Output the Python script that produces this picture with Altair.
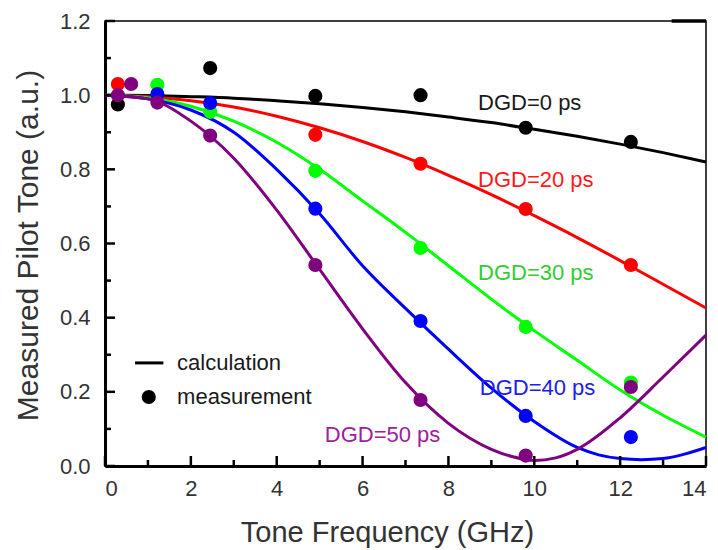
import altair as alt
import pandas as pd

# ---------------- data ----------------
series_names = ["DGD=0 ps", "DGD=20 ps", "DGD=30 ps", "DGD=40 ps", "DGD=50 ps"]
line_colors = ["#000000", "#ff0000", "#00ff00", "#0000ff", "#800080"]
label_colors = ["#1a1a1a", "#ff1a1a", "#33cc33", "#2020ee", "#a020a0"]

# calculation curves
calc_x_0 = [0, 1, 2, 3, 4, 5, 6, 7, 8, 9, 10, 11, 12, 13, 14]
calc_y_0 = [1.0, 0.999, 0.996, 0.992, 0.985, 0.977, 0.967, 0.955, 0.941, 0.926, 0.908, 0.889, 0.868, 0.845, 0.82]
calc_x_20 = [0, 1, 2, 3, 4, 5, 6, 7, 8, 9, 10, 11, 12, 13, 14]
calc_y_20 = [1.0, 0.996, 0.985, 0.968, 0.943, 0.912, 0.875, 0.832, 0.784, 0.732, 0.675, 0.616, 0.554, 0.49, 0.426]
calc_x_30 = [0, 1, 2, 3, 4, 5, 6, 7, 8, 9, 10, 11, 12, 13, 14]
calc_y_30 = [1.0, 0.993, 0.97, 0.93, 0.873, 0.8, 0.715, 0.63, 0.54, 0.45, 0.365, 0.285, 0.205, 0.137, 0.078]
calc_x_40 = [0, 1, 2, 3, 4, 5, 6, 7, 8, 9, 10, 11, 11.5, 12, 12.5, 13, 13.5, 14]
calc_y_40 = [1.0, 0.99, 0.96, 0.9, 0.8, 0.68, 0.54, 0.425, 0.315, 0.21, 0.12, 0.05, 0.03, 0.02, 0.017, 0.02, 0.032, 0.05]
calc_x_50 = [0, 1, 2, 3, 4, 5, 6, 7, 8, 9, 9.5, 10, 10.5, 11, 12, 13, 14]
calc_y_50 = [1.0, 0.99, 0.93, 0.83, 0.69, 0.53, 0.37, 0.225, 0.115, 0.045, 0.025, 0.015, 0.022, 0.045, 0.13, 0.24, 0.353]

# measurements
meas_x_0 = [0.3, 2.45, 4.9, 7.35, 9.8, 12.25]
meas_y_0 = [0.975, 1.073, 0.998, 1.0, 0.912, 0.874]
meas_x_20 = [0.3, 4.9, 7.35, 9.8, 12.25]
meas_y_20 = [1.03, 0.893, 0.815, 0.693, 0.542]
meas_x_30 = [1.22, 2.45, 4.9, 7.35, 9.8, 12.25]
meas_y_30 = [1.028, 0.955, 0.796, 0.588, 0.375, 0.225]
meas_x_40 = [1.22, 2.45, 4.9, 7.35, 9.8, 12.25]
meas_y_40 = [1.003, 0.979, 0.694, 0.391, 0.135, 0.078]
meas_x_50 = [0.3, 0.61, 1.22, 2.45, 4.9, 7.35, 9.8, 12.25]
meas_y_50 = [1.0, 1.03, 0.98, 0.891, 0.542, 0.178, 0.028, 0.213]

x_major = [0, 2, 4, 6, 8, 10, 12, 14]
x_minor = [1, 3, 5, 7, 9, 11, 13]
y_major = [0.0, 0.2, 0.4, 0.6, 0.8, 1.0, 1.2]
y_minor = [0.1, 0.3, 0.5, 0.7, 0.9, 1.1]

# ---------------- tables ----------------
calc_xs = [calc_x_0, calc_x_20, calc_x_30, calc_x_40, calc_x_50]
calc_ys = [calc_y_0, calc_y_20, calc_y_30, calc_y_40, calc_y_50]
meas_xs = [meas_x_0, meas_x_20, meas_x_30, meas_x_40, meas_x_50]
meas_ys = [meas_y_0, meas_y_20, meas_y_30, meas_y_40, meas_y_50]

calc_rows, meas_rows = [], []
for i, name in enumerate(series_names):
    for xv, yv in zip(calc_xs[i], calc_ys[i]):
        calc_rows.append({"f": xv, "v": yv, "s": name, "o": i})
    for xv, yv in zip(meas_xs[i], meas_ys[i]):
        meas_rows.append({"f": xv, "v": yv, "s": name, "o": i})
calc_df = pd.DataFrame(calc_rows)
meas_df = pd.DataFrame(meas_rows)

W, H = 601, 445
FONT = "Liberation Sans"
xs = alt.Scale(domain=[0, 14], nice=False, zero=False)
ys = alt.Scale(domain=[0, 1.2], nice=False, zero=False)
cscale = alt.Scale(domain=series_names, range=line_colors)

x_axis = alt.Axis(values=x_major, ticks=False, tickSize=0, grid=False,
                  domainColor="black", domainWidth=3, labelFontSize=22,
                  labelColor="#333333", labelFont=FONT, labelPadding=12,
                  title="Tone Frequency (GHz)", titleFont=FONT, titleFontSize=29,
                  titleFontWeight="normal", titleColor="#333333",
                  titleX=282, titleY=75, titleAlign="center", titleBaseline="alphabetic")
y_axis = alt.Axis(values=y_major, format=".1f", ticks=False, tickSize=0, grid=False,
                  domainColor="black", domainWidth=3, labelFontSize=22,
                  labelColor="#333333", labelFont=FONT, labelPadding=15,
                  title="Measured Pilot Tone (a.u.)", titleFont=FONT, titleFontSize=30,
                  titleFontWeight="normal", titleColor="#333333",
                  titleX=-68, titleY=224, titleAlign="center", titleBaseline="alphabetic",
                  titleAngle=270)


def X(field):
    return alt.X(field, type="quantitative", scale=xs, axis=x_axis)


def Y(field):
    return alt.Y(field, type="quantitative", scale=ys, axis=y_axis)


lines = alt.Chart(calc_df).mark_line(strokeWidth=3, interpolate="monotone").encode(
    x=X("f"), y=Y("v"),
    color=alt.Color("s:N", scale=cscale, legend=None),
    detail="s:N",
    order="f:Q",
)

points = alt.Chart(meas_df).mark_circle(size=200, opacity=1).encode(
    x=X("f"), y=Y("v"),
    color=alt.Color("s:N", scale=cscale, legend=None),
    order="o:Q",
)

# inward ticks
ymaj = alt.Chart(pd.DataFrame({"v": y_major})).mark_rule(color="black", strokeWidth=2.5).encode(
    y=Y("v"), x=alt.value(0), x2=alt.value(10))
ymin = alt.Chart(pd.DataFrame({"v": y_minor})).mark_rule(color="black", strokeWidth=2.5).encode(
    y=Y("v"), x=alt.value(0), x2=alt.value(6))
xmaj = alt.Chart(pd.DataFrame({"f": x_major})).mark_rule(color="black", strokeWidth=2.5).encode(
    x=X("f"), y=alt.value(H), y2=alt.value(H - 10))
xmin = alt.Chart(pd.DataFrame({"f": x_minor})).mark_rule(color="black", strokeWidth=2.5).encode(
    x=X("f"), y=alt.value(H), y2=alt.value(H - 6))

# top-right thick segment of the frame
corner = alt.Chart(pd.DataFrame({"a": [13.2], "b": [14.0], "v": [1.2]})).mark_rule(
    color="black", strokeWidth=3.5).encode(x=X("a"), x2="b:Q", y=Y("v"))

# series labels
lab_df = pd.DataFrame({
    "t": series_names,
    "f": [8.69, 8.69, 8.69, 8.73, 5.12],
    "v": [0.979, 0.771, 0.52, 0.21, 0.084],
})
labels = alt.Chart(lab_df).mark_text(align="left", baseline="middle", fontSize=22, font=FONT).encode(
    x=X("f"), y=Y("v"),
    text="t:N",
    color=alt.Color("t:N", scale=alt.Scale(domain=series_names, range=label_colors), legend=None),
)

# custom legend
leg_line = alt.Chart(pd.DataFrame({"a": [0.7], "b": [1.36], "v": [0.278]})).mark_rule(
    color="black", strokeWidth=3).encode(x=X("a"), x2="b:Q", y=Y("v"))
leg_dot = alt.Chart(pd.DataFrame({"f": [1.02], "v": [0.186]})).mark_circle(
    size=200, color="black", opacity=1).encode(x=X("f"), y=Y("v"))
leg_text = alt.Chart(pd.DataFrame({"t": ["calculation", "measurement"], "f": [1.68, 1.68],
                                   "v": [0.278, 0.186]})).mark_text(
    align="left", baseline="middle", fontSize=22, font=FONT, color="#1a1a1a").encode(
    x=X("f"), y=Y("v"), text="t:N")

chart = alt.layer(
    lines, ymaj, ymin, xmaj, xmin, corner, points, labels, leg_line, leg_dot, leg_text
).resolve_scale(color="independent").properties(
    width=W, height=H,
    autosize=alt.AutoSizeParams(type="none"),
    padding={"left": 105, "top": 21, "right": 12, "bottom": 84},
    background="white",
).configure_view(stroke="black", strokeWidth=1.5)

chart.save("out.html", embed_options={"renderer": "svg", "actions": False})
